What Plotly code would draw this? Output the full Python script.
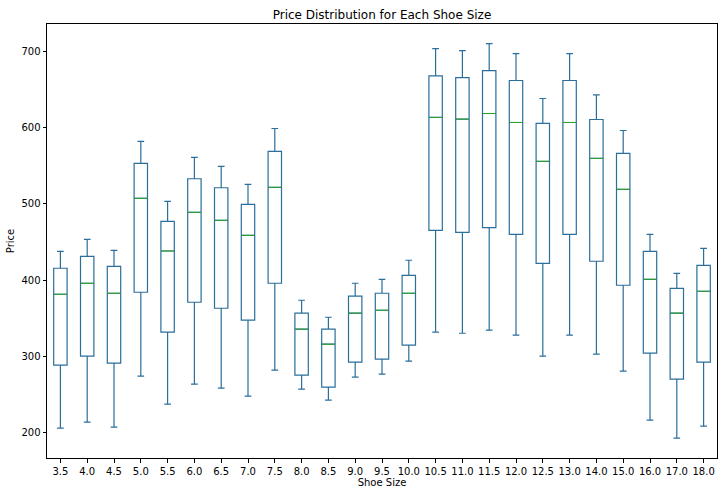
import plotly.graph_objects as go

sizes = ["3.5", "4.0", "4.5", "5.0", "5.5", "6.0", "6.5", "7.0", "7.5", "8.0", "8.5", "9.0",
         "9.5", "10.0", "10.5", "11.0", "11.5", "12.0", "12.5", "13.0", "14.0", "15.0", "16.0", "17.0", "18.0"]
lower = [205.7, 213.5, 207.0, 273.9, 237.2, 263.4, 258.1, 247.6, 281.7, 256.8, 242.4, 272.6,
         276.5, 293.5, 331.6, 330.2, 334.2, 327.6, 300.1, 327.6, 302.7, 280.4, 216.2, 192.6, 208.3]
q1 = [288.3, 300.1, 290.9, 384.0, 331.6, 370.9, 363.0, 347.3, 395.8, 275.2, 259.4, 292.2,
      296.2, 314.5, 465.3, 462.7, 468.8, 460.1, 422.0, 460.1, 424.7, 393.2, 304.0, 269.9, 292.2]
median = [381.4, 395.8, 382.7, 507.3, 438.2, 488.9, 478.4, 458.7, 521.7, 335.5, 315.8, 356.5,
          360.4, 382.7, 613.5, 611.3, 618.7, 606.9, 555.8, 606.9, 559.7, 519.1, 401.0, 356.5, 385.3]
q3 = [415.5, 431.2, 418.1, 553.1, 477.1, 533.0, 521.2, 499.4, 568.9, 356.5, 335.5, 378.8,
      382.7, 406.3, 668.1, 665.9, 675.1, 662.0, 605.6, 662.0, 610.8, 566.3, 437.8, 389.2, 419.4]
upper = [437.8, 453.5, 439.1, 582.0, 503.3, 561.0, 549.2, 525.6, 599.0, 373.5, 351.2, 395.8,
         401.0, 426.0, 703.9, 701.3, 710.5, 697.4, 638.4, 697.4, 643.2, 596.4, 460.1, 408.9, 441.7]
y_ticks = [200, 300, 400, 500, 600, 700]

font = "DejaVu Sans"
fig = go.Figure()
fig.add_trace(go.Box(
    x=sizes, q1=q1, median=median, q3=q3, lowerfence=lower, upperfence=upper,
    boxpoints=False, fillcolor="rgba(0,0,0,0)",
    line=dict(color="#2a6e9c", width=1.2), width=0.5, whiskerwidth=0.5,
    showlegend=False, hoverinfo="skip",
))
fig.add_trace(go.Scatter(
    x=sizes, y=median, mode="markers",
    marker=dict(symbol="line-ew", size=9.2, color="#2ca02c",
                line=dict(color="#2ca02c", width=1.1)),
    showlegend=False, hoverinfo="skip",
))
fig.update_layout(
    width=724, height=496,
    margin=dict(l=47, r=7, t=24, b=38),
    paper_bgcolor="white", plot_bgcolor="white",
    font=dict(family=font, size=10, color="black"),
    title=dict(text="Price Distribution for Each Shoe Size", x=0.5, xref="paper",
               y=1, yref="paper", yanchor="bottom", pad=dict(b=5),
               font=dict(family=font, size=12, color="black")),
)
fig.update_xaxes(
    type="category", range=[-0.5, len(sizes) - 0.5], automargin=False,
    showline=True, linecolor="black", linewidth=1, mirror=True,
    showgrid=False, zeroline=False,
    ticks="outside", ticklen=3.5, tickwidth=0.8, tickcolor="black",
    tickfont=dict(family=font, size=10, color="black"),
    title=dict(text="Shoe Size", standoff=3, font=dict(family=font, size=10, color="black")),
)
fig.update_yaxes(
    range=[166.4, 736.2], tickvals=y_ticks, automargin=False,
    showline=True, linecolor="black", linewidth=1, mirror=True,
    showgrid=False, zeroline=False,
    ticks="outside", ticklen=3.5, tickwidth=0.8, tickcolor="black",
    tickfont=dict(family=font, size=10, color="black"),
    title=dict(text="Price", standoff=4, font=dict(family=font, size=10, color="black")),
)
fig.write_html("out.html", config={"displayModeBar": False},
               post_script="document.body.style.margin='0';document.body.style.padding='0';")
